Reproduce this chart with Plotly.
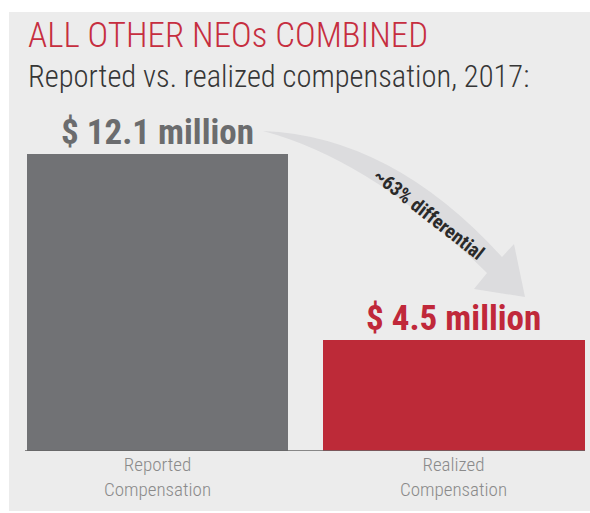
import plotly.graph_objects as go

# ---- data ----
categories = ["Reported", "Realized"]
tick_labels = ["Reported<br>Compensation", "Realized<br>Compensation"]
values_musd = [12.1, 4.5]
value_labels = ["$ 12.1 million", "$ 4.5 million"]
title_text = "ALL OTHER NEOs COMBINED"
subtitle_text = "Reported vs. realized compensation, 2017:"
arrow_text = "~63% differential"

W, H = 590, 513
COND = "Roboto Condensed, DejaVu Sans Condensed, sans-serif"

bar_colors = ["#717275", "#bd2a38"]
label_colors = ["#6b6c6e", "#c0283a"]


def px(x):
    return x / W


def py(y):
    return 1 - y / H


def path_px(cmds):
    out = []
    for c in cmds:
        if isinstance(c, str):
            out.append(c)
        else:
            out.append(f"{px(c[0]):.5f},{py(c[1]):.5f}")
    return " ".join(out)


fig = go.Figure()
fig.add_trace(go.Bar(
    x=categories, y=values_musd,
    marker=dict(color=bar_colors, line=dict(width=0)),
    width=0.885, hoverinfo="skip", showlegend=False,
))

shapes = [
    # light panel
    dict(type="rect", xref="paper", yref="paper", x0=px(9), x1=1.0, y0=py(511), y1=py(12),
         fillcolor="#ececec", line=dict(width=0), layer="below"),
    # baseline
    dict(type="line", xref="paper", yref="y", x0=px(25), x1=px(585), y0=0, y1=0,
         line=dict(color="#666666", width=1.5), layer="above"),
    # curved arrow
    dict(type="path", xref="paper", yref="paper",
         path=path_px(["M", (263, 131), "Q", (392, 136), (502, 257),
                       "L", (514, 244), "L", (525, 297), "L", (474, 289),
                       "L", (487, 273), "Q", (372, 160), (263, 131), "Z"]),
         fillcolor="#dcdcde", line=dict(width=0), layer="below"),
]

annotations = [
    dict(text=title_text, xref="paper", yref="paper", x=px(26), y=py(13),
         xanchor="left", yanchor="top", showarrow=False,
         font=dict(family=COND, size=35, weight=300, color="#c62e3f")),
    dict(text=subtitle_text, xref="paper", yref="paper", x=px(26), y=py(57),
         xanchor="left", yanchor="top", showarrow=False,
         font=dict(family=COND, size=30.5, weight=300, color="#363636")),
    dict(text=f"<b>{arrow_text}</b>", xref="paper", yref="paper", x=px(429), y=py(214),
         xanchor="center", yanchor="middle", textangle=38, showarrow=False,
         font=dict(family=COND, size=19.5, color="#2a2a2a")),
]
for cat, v, lab, col in zip(categories, values_musd, value_labels, label_colors):
    annotations.append(dict(text=f"<b>{lab}</b>", x=cat, y=v, xref="x", yref="y",
                            xanchor="center", yanchor="bottom", yshift=-1, showarrow=False,
                            font=dict(family=COND, size=35, color=col)))

fig.update_layout(
    width=W, height=H,
    margin=dict(l=0, r=0, t=0, b=0),
    paper_bgcolor="white", plot_bgcolor="rgba(0,0,0,0)",
    shapes=shapes, annotations=annotations,
    xaxis=dict(domain=[0, 1], range=[-0.532, 1.461], tickmode="array",
               tickvals=categories, ticktext=tick_labels, showline=False,
               showgrid=False, zeroline=False, ticks="",
               tickfont=dict(family=COND, size=19, weight=300, color="#8a8a8a")),
    yaxis=dict(domain=[(H - 451) / H, 1], range=[0, 18.36], visible=False),
    bargap=0,
)

fig.write_html("out.html", config={"displayModeBar": False},
               post_script="document.body.style.margin='0';")
